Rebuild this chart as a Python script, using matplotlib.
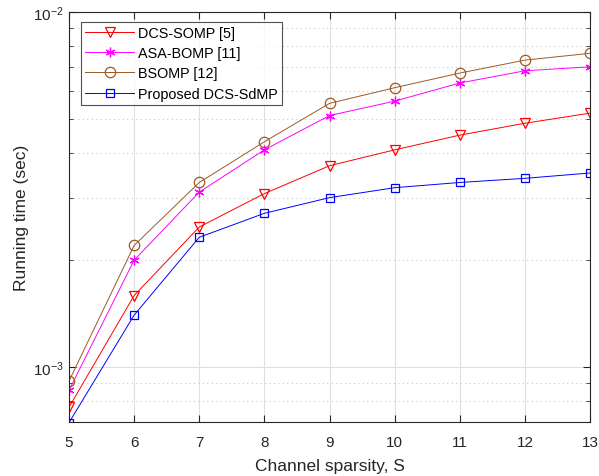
import matplotlib
matplotlib.use("Agg")
import matplotlib.pyplot as plt
from matplotlib.ticker import LogLocator, NullFormatter, FixedFormatter

plt.rcParams["font.family"] = ["Liberation Sans", "DejaVu Sans"]
plt.rcParams["mathtext.fontset"] = "custom"
plt.rcParams["mathtext.rm"] = "Liberation Sans"

sparsity = [5, 6, 7, 8, 9, 10, 11, 12, 13]

dcs_somp = [7.7e-4, 1.59e-3, 2.48e-3, 3.08e-3, 3.69e-3, 4.09e-3, 4.50e-3, 4.86e-3, 5.19e-3]
asa_bomp = [8.6e-4, 2.0e-3, 3.11e-3, 4.09e-3, 5.11e-3, 5.61e-3, 6.31e-3, 6.83e-3, 7.01e-3]
bsomp = [9.13e-4, 2.2e-3, 3.31e-3, 4.31e-3, 5.53e-3, 6.12e-3, 6.73e-3, 7.32e-3, 7.65e-3]
proposed = [6.97e-4, 1.40e-3, 2.32e-3, 2.71e-3, 3.0e-3, 3.2e-3, 3.31e-3, 3.40e-3, 3.52e-3]

labels = ["DCS-SOMP [5]", "ASA-BOMP [11]", "BSOMP [12]", "Proposed DCS-SdMP"]
ytick_vals = [1e-3, 1e-2]
ytick_text = [r"$\mathrm{10^{-3}}$", r"$\mathrm{10^{-2}}$"]

fig = plt.figure(figsize=(5.99, 4.77), dpi=100)
ax = fig.add_axes([0.1152, 0.1132, 0.8698, 0.8595])

ax.semilogy(sparsity, dcs_somp, color="#ff0000", lw=0.7, marker="v", ms=7.5,
            mfc="none", mec="#ff0000", mew=0.9, label=labels[0])
ax.semilogy(sparsity, asa_bomp, color="#ff00ff", lw=0.7, marker=(6, 2, 0), ms=7,
            mec="#ff00ff", mew=0.9, label=labels[1])
ax.semilogy(sparsity, bsomp, color="#9c5a24", lw=0.7, marker="o", ms=7.5,
            mfc="none", mec="#9c5a24", mew=0.9, label=labels[2])
ax.semilogy(sparsity, proposed, color="#0000ff", lw=0.7, marker="s", ms=5.5,
            mfc="none", mec="#0000ff", mew=0.9, label=labels[3])

ax.set_xlim(5, 13)
ax.set_ylim(7e-4, 1e-2)
ax.set_xticks(sparsity)
ax.set_yticks(ytick_vals)
ax.yaxis.set_major_formatter(FixedFormatter(ytick_text))
ax.yaxis.set_minor_locator(LogLocator(base=10, subs=range(2, 10)))
ax.yaxis.set_minor_formatter(NullFormatter())

ax.grid(True, which="major", color="#e0e0e0", lw=0.8, ls="-")
ax.grid(True, which="minor", axis="y", color="#c8c8c8", lw=0.8, ls=(0, (1, 3)))
ax.set_axisbelow(True)

ax.tick_params(which="both", direction="in", top=True, right=True,
               labelsize=11, colors="#262626")
ax.tick_params(axis="x", which="major", pad=9)
ax.tick_params(which="major", length=5)
ax.tick_params(which="minor", length=3)
for s in ax.spines.values():
    s.set_color("#262626")
    s.set_linewidth(0.8)

ax.set_xlabel("Channel sparsity, S", fontsize=12.5, color="#262626", labelpad=7)
ax.set_ylabel("Running time (sec)", fontsize=12.5, color="#262626", labelpad=3)

leg = ax.legend(loc="upper left", bbox_to_anchor=(0.023, 0.9756), fontsize=10.4,
                frameon=True, fancybox=False, edgecolor="#262626",
                handlelength=3.4, borderpad=0.3, labelspacing=0.42,
                handletextpad=0.25, borderaxespad=0.0)
leg.get_frame().set_linewidth(0.8)

fig.savefig("out.png", dpi=100)
